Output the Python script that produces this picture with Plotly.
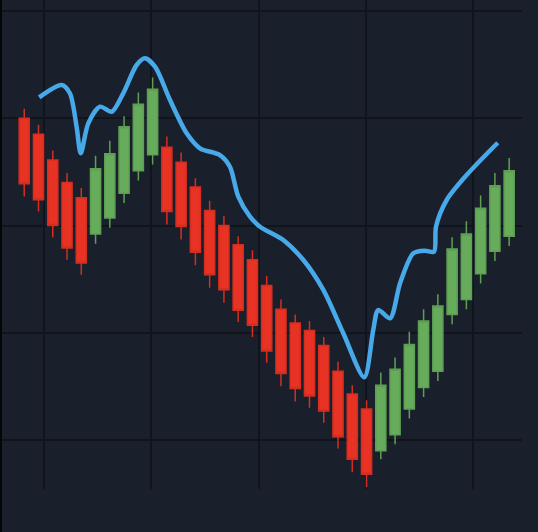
import plotly.graph_objects as go

# Candle positions (index units)
candle_x = list(range(35))
open_ = [130.0, 128.5, 126.1, 124.0, 122.6, 119.2, 120.7, 123.0, 125.1, 126.6,
         127.3, 125.9, 123.6, 121.4, 120.0, 118.2, 116.8, 114.4, 112.2, 110.9,
         110.2, 108.8, 106.4, 104.3, 102.9, 99.0, 100.5, 102.9, 104.9, 106.4,
         111.7, 113.1, 115.5, 117.6, 119.0]
high = [130.9, 129.4, 127.0, 124.9, 123.5, 126.5, 127.9, 130.2, 132.4, 133.8,
        128.3, 126.8, 124.4, 122.3, 120.9, 119.0, 117.7, 115.3, 113.1, 111.7,
        111.1, 109.6, 107.3, 105.1, 103.7, 106.3, 107.7, 110.1, 112.2, 113.6,
        118.9, 120.4, 122.8, 124.9, 126.3]
low = [122.7, 121.3, 118.9, 116.8, 115.4, 118.3, 119.8, 122.1, 124.2, 125.7,
       120.1, 118.7, 116.3, 114.2, 112.8, 111.0, 109.6, 107.2, 105.0, 103.6,
       103.0, 101.6, 99.2, 97.0, 95.6, 98.2, 99.6, 102.0, 104.0, 105.5,
       110.8, 112.2, 114.6, 116.7, 118.1]
close = [123.9, 122.4, 120.0, 117.9, 116.5, 125.3, 126.7, 129.2, 131.3, 132.7,
         121.3, 119.9, 117.5, 115.4, 114.0, 112.1, 110.7, 108.3, 106.2, 104.8,
         104.1, 102.7, 100.3, 98.2, 96.8, 105.1, 106.6, 108.9, 111.1, 112.5,
         117.8, 119.2, 121.6, 123.7, 125.1]

# Smoothed overlay line (index units, price)
line_x = [1.05, 2.62, 3.20, 3.67, 3.96, 4.49, 5.31, 6.13, 6.94, 7.88, 8.46, 9.17,
          10.22, 11.39, 12.32, 13.72, 14.42, 15.01, 15.83, 16.53, 18.16, 19.57,
          20.97, 22.37, 23.84, 24.47, 24.82, 25.65, 26.35, 27.28, 28.10, 28.73,
          28.87, 29.62, 31.02, 33.20]
line_y = [131.95, 133.10, 132.33, 129.21, 126.73, 129.53, 131.08, 130.61, 132.33,
          134.97, 135.59, 134.81, 131.70, 128.60, 127.20, 126.57, 125.48, 122.69,
          120.82, 119.89, 118.65, 116.78, 113.99, 109.95, 105.85, 110.26, 112.12,
          111.35, 114.61, 117.41, 117.65, 117.56, 119.89, 122.38, 124.71, 127.72]

BG = "#19202c"
GRID = "#10151c"

fig = go.Figure()
fig.add_trace(go.Candlestick(
    x=candle_x, open=open_, high=high, low=low, close=close,
    increasing=dict(fillcolor="#66ac5b", line=dict(color="#5d9f53", width=1.5)),
    decreasing=dict(fillcolor="#e83223", line=dict(color="#d42e20", width=1.5)),
    whiskerwidth=0, showlegend=False, hoverinfo="skip",
))
fig.add_trace(go.Scatter(
    x=line_x, y=line_y, mode="lines",
    line=dict(color="#48a9ea", width=4.5, shape="spline", smoothing=0.8),
    showlegend=False, hoverinfo="skip",
))

fig.update_layout(
    width=538, height=532,
    margin=dict(l=2, r=16, t=0, b=43, pad=0),
    paper_bgcolor=BG, plot_bgcolor=BG,
    boxgap=0.0, boxgroupgap=0.29,
    showlegend=False,
    xaxis=dict(range=[-1.56, 34.90], rangeslider=dict(visible=False),
               showticklabels=False, ticks="", tick0=1.4, dtick=7.52,
               showgrid=True, gridcolor=GRID, gridwidth=2, zeroline=False,
               showline=False),
    yaxis=dict(range=[95.43, 141.03], showticklabels=False, ticks="",
               tick0=100, dtick=10, showgrid=True, gridcolor=GRID, gridwidth=2,
               zeroline=False, showline=False),
    shapes=[dict(type="rect", xref="paper", yref="paper", x0=-0.01, x1=0.0,
                 y0=-0.2, y1=1.1, fillcolor="#050608", line=dict(width=0),
                 layer="below")],
)

fig.write_html("out.html", config={"displayModeBar": False},
               post_script="document.body.style.margin='0px';document.body.style.overflow='hidden';")
